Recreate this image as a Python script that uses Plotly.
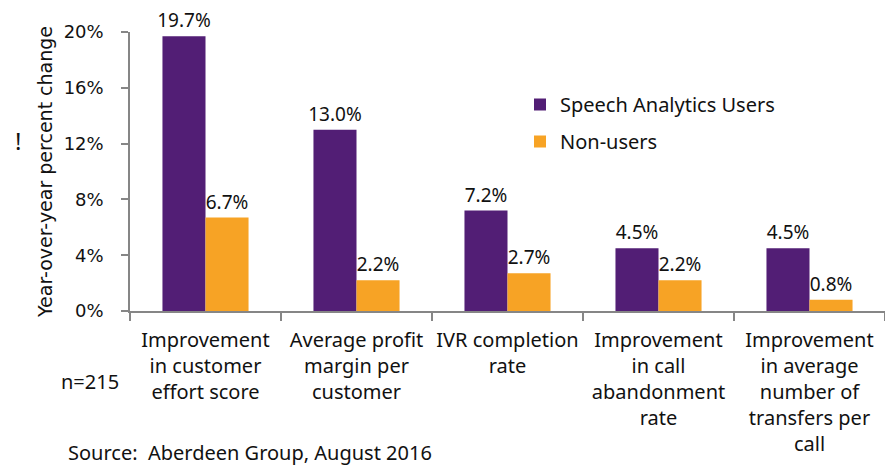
import plotly.graph_objects as go

categories = [
    "Improvement<br>in customer<br>effort score",
    "Average profit<br>margin per<br>customer",
    "IVR completion<br>rate",
    "Improvement<br>in call<br>abandonment<br>rate",
    "Improvement<br>in average<br>number of<br>transfers per<br>call",
]
users = [19.7, 13.0, 7.2, 4.5, 4.5]
non_users = [6.7, 2.2, 2.7, 2.2, 0.8]
y_ticks = [0, 4, 8, 12, 16, 20]
y_ticktext = [f"{v}%" for v in y_ticks]

PURPLE = "#521E75"
ORANGE = "#F7A325"
AXIS = "#868686"
FONT = "Noto Sans"

W, H = 885, 470
L, R, T, B = 130, 0, 32, 159
pw, ph = W - L - R, H - T - B


def px_x(x):
    return (x - L) / pw


def px_y(y):
    return (H - B - y) / ph


fig = go.Figure()
fig.add_trace(go.Bar(
    x=categories, y=users, name="Speech Analytics Users",
    marker=dict(color=PURPLE, line=dict(width=0)),
    texttemplate="%{y:.1f}%", textposition="outside", constraintext="none",
    textfont=dict(family=FONT, size=19, color="#111111"),
    cliponaxis=False, legendgroup="a",
))
fig.add_trace(go.Bar(
    x=categories, y=non_users, name="Non-users",
    marker=dict(color=ORANGE, line=dict(width=0)),
    texttemplate="%{y:.1f}%", textposition="outside", constraintext="none",
    textfont=dict(family=FONT, size=19, color="#111111"),
    cliponaxis=False, legendgroup="b",
))

fig.update_layout(
    width=W, height=H,
    margin=dict(l=L, r=R, t=T, b=B, pad=0),
    paper_bgcolor="white", plot_bgcolor="white",
    barmode="group", bargap=0.43, bargroupgap=0,
    font=dict(family=FONT, size=20, color="#111111"),
    showlegend=True,
    legend=dict(
        x=px_x(520), y=px_y(85), xanchor="left", yanchor="top",
        font=dict(family=FONT, size=20, color="#111111"),
        tracegroupgap=8, bgcolor="rgba(0,0,0,0)", itemwidth=30,
    ),
    xaxis=dict(
        type="category", showline=True, linecolor=AXIS, linewidth=1.5,
        ticks="outside", tickson="boundaries", ticklen=8, tickcolor=AXIS,
        tickwidth=1.5, tickfont=dict(family=FONT, size=20, color="#111111"),
        showgrid=False, zeroline=False, tickangle=0, ticklabelstandoff=10,
    ),
    yaxis=dict(
        range=[0, 20], tickvals=y_ticks, ticktext=y_ticktext,
        showline=True, linecolor=AXIS, linewidth=1.5,
        ticks="outside", ticklen=7, tickcolor=AXIS, tickwidth=1.5,
        tickfont=dict(family="DejaVu Sans", size=18, color="#111111"),
        showgrid=False, zeroline=False, ticklabelstandoff=14,
        title=dict(text="Year-over-year percent change",
                   font=dict(family="DejaVu Sans", size=19, color="#111111"),
                   standoff=6),
    ),
)

fig.add_annotation(x=px_x(18), y=px_y(140), xref="paper", yref="paper",
                   text="!", showarrow=False, xanchor="center", yanchor="middle",
                   font=dict(family=FONT, size=24, color="#111111"))
fig.add_annotation(x=px_x(90), y=px_y(381), xref="paper", yref="paper",
                   text="n=215", showarrow=False, xanchor="center", yanchor="middle",
                   font=dict(family=FONT, size=20, color="#111111"))
fig.add_annotation(x=px_x(66), y=px_y(452), xref="paper", yref="paper",
                   text="Source:  Aberdeen Group, August 2016", showarrow=False,
                   xanchor="left", yanchor="middle",
                   font=dict(family=FONT, size=20, color="#111111"))

fig.write_html("out.html")
